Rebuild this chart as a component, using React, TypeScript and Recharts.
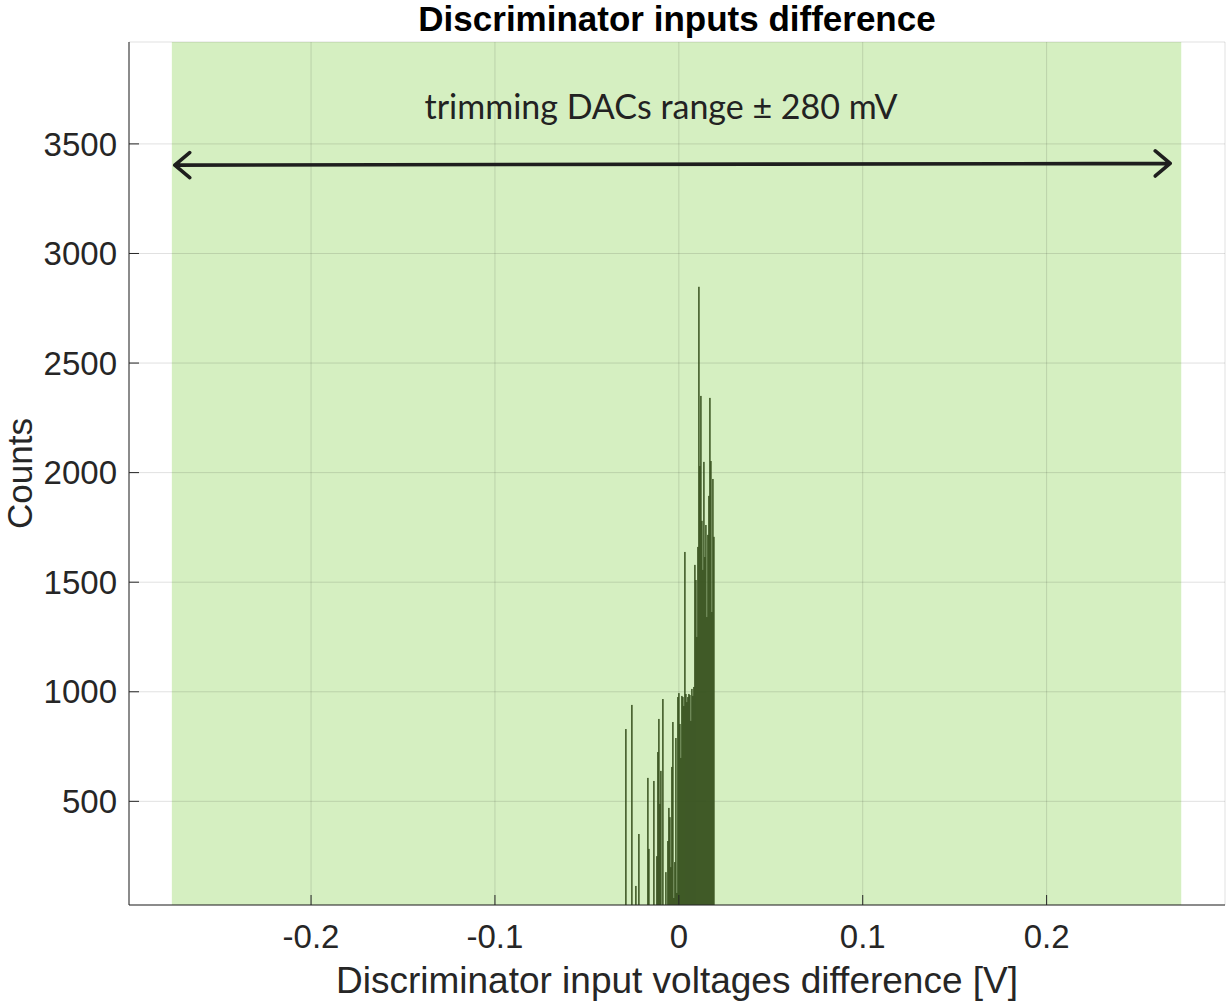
import {
  Bar,
  CartesianGrid,
  ComposedChart,
  Label,
  ReferenceArea,
  ReferenceDot,
  ReferenceLine,
  XAxis,
  YAxis,
} from 'recharts';

// histogram bins (1 bin ~ 0.54 mV), counts
const binStart = -0.0288;
const binWidth = 0.000544;
const counts = [
  830, 0, 0, 0, 0, 0, 940, 0, 0, 0,
  114, 0, 0, 351, 0, 0, 0, 0, 0, 0,
  0, 0, 607, 283, 0, 0, 0, 0, 593, 0,
  0, 250, 725, 876, 488, 639, 0, 967, 0, 0,
  177, 0, 319, 470, 428, 200, 657, 862, 59, 223,
  789, 82, 976, 994, 853, 698, 981, 976, 935, 1638,
  990, 953, 976, 990, 985, 867, 1013, 981, 1022, 1579,
  1510, 1250, 1661, 2848, 2030, 2350, 1780, 1556, 2049, 1615,
  1761, 1341, 1716, 1894, 2341, 2053, 1364, 1971, 1707,
];

const xDomain = [-0.299, 0.297];
const yDomain = [27, 3965];
const xTicks = [-0.2, -0.1, 0, 0.1, 0.2];
const yTicks = [500, 1000, 1500, 2000, 2500, 3000, 3500];

const trimRange = [-0.2757, 0.2732];
const arrowStart = { x: -0.2741, y: 3403 };
const arrowEnd = { x: 0.2672, y: 3411 };
const notePos = { x: -0.0097, y: 3669 };
const noteText = 'trimming DACs range ± 280 mV';

const rows = counts.map((count, i) => ({ x: binStart + i * binWidth, count }));

const FONT = '"Liberation Sans", Arial, Helvetica, sans-serif';
const INK = '#262626';
const BAR_PX = 1.5;

function DoubleArrow(props: any) {
  const { x1, y1, x2, y2 } = props;
  const a = Math.atan2(y2 - y1, x2 - x1);
  const len = 19.5;
  const spread = 0.7;
  const head = (x: number, y: number, dir: number) => {
    const p1x = x + len * Math.cos(dir + spread);
    const p1y = y + len * Math.sin(dir + spread);
    const p2x = x + len * Math.cos(dir - spread);
    const p2y = y + len * Math.sin(dir - spread);
    return `M${p1x},${p1y} L${x},${y} L${p2x},${p2y}`;
  };
  return (
    <path
      d={`M${x1},${y1} L${x2},${y2} ${head(x1, y1, a)} ${head(x2, y2, a + Math.PI)}`}
      fill="none"
      stroke="#1e1e1e"
      strokeWidth={3.6}
      strokeLinecap="round"
      strokeLinejoin="round"
    />
  );
}

// numeric x axis squeezes the bars to 0.9 of a bin, so draw them a bit wider
function HistBar(props: any) {
  const { x, y, width, height, fill } = props;
  if (!height || height <= 0) return <g />;
  const cx = x + width / 2;
  return <rect x={cx - BAR_PX / 2} y={y} width={BAR_PX} height={height} fill={fill} />;
}

function CountsLabel({ viewBox }: any) {
  const top = viewBox?.y ?? 42;
  const h = viewBox?.height ?? 863;
  const x0 = viewBox?.x ?? 0;
  return (
    <text
      transform={`translate(${x0 + 32}, ${top + h / 2}) rotate(-90)`}
      textAnchor="middle"
      fill={INK}
      fontSize={35}
      fontFamily={FONT}
    >
      Counts
    </text>
  );
}

export default function App() {
  return (
    <div
      style={{
        position: 'absolute',
        left: 0,
        top: 0,
        width: 1228,
        height: 1002,
        background: '#fff',
        fontFamily: FONT,
      }}
    >
      <div
        style={{
          position: 'absolute',
          left: 129,
          top: 1,
          width: 1096,
          textAlign: 'center',
          fontSize: 35,
          lineHeight: '35px',
          fontWeight: 'bold',
          color: '#000',
        }}
      >
        Discriminator inputs difference
      </div>
      <ComposedChart
        width={1228}
        height={1002}
        data={rows}
        margin={{ top: 42, right: 3, bottom: 0, left: 0 }}
      >
        <ReferenceArea
          x1={trimRange[0]}
          x2={trimRange[1]}
          fill="#d5efc1"
          fillOpacity={1}
          stroke="none"
          ifOverflow="hidden"
          zIndex={-200}
        />
        <CartesianGrid stroke="#000" strokeOpacity={0.12} />
        <XAxis
          type="number"
          dataKey="x"
          domain={xDomain}
          ticks={xTicks}
          allowDataOverflow
          interval={0}
          height={97}
          tickSize={-10}
          tickMargin={30}
          stroke={INK}
          tick={{ fill: INK, fontSize: 33, fontFamily: FONT }}
          tickFormatter={(v) => String(v)}
        >
          <Label
            value="Discriminator input voltages difference [V]"
            position="insideBottom"
            offset={9}
            fill={INK}
            fontSize={37}
            fontFamily={FONT}
          />
        </XAxis>
        <XAxis
          xAxisId="top"
          orientation="top"
          type="number"
          domain={xDomain}
          ticks={xTicks}
          allowDataOverflow
          height={0}
          tick={false}
          tickSize={-10}
          stroke={INK}
        />
        <YAxis
          type="number"
          domain={yDomain}
          ticks={yTicks}
          allowDataOverflow
          interval={0}
          width={129}
          tickSize={-10}
          tickMargin={22}
          stroke={INK}
          tick={{ fill: INK, fontSize: 33, fontFamily: FONT }}
        >
          <Label content={CountsLabel} />
        </YAxis>
        <YAxis
          yAxisId="right"
          orientation="right"
          type="number"
          domain={yDomain}
          ticks={yTicks}
          allowDataOverflow
          width={0}
          tick={false}
          tickSize={-10}
          stroke={INK}
        />
        <Bar dataKey="count" fill="#38521f" shape={HistBar} isAnimationActive={false} />
        <ReferenceLine segment={[arrowStart, arrowEnd]} shape={DoubleArrow} ifOverflow="visible" />
        <ReferenceDot
          x={notePos.x}
          y={notePos.y}
          r={0}
          fill="none"
          stroke="none"
          label={{ value: noteText, position: 'center', fill: '#222', fontSize: 34, fontFamily: 'Lato' }}
        />
      </ComposedChart>
    </div>
  );
}
